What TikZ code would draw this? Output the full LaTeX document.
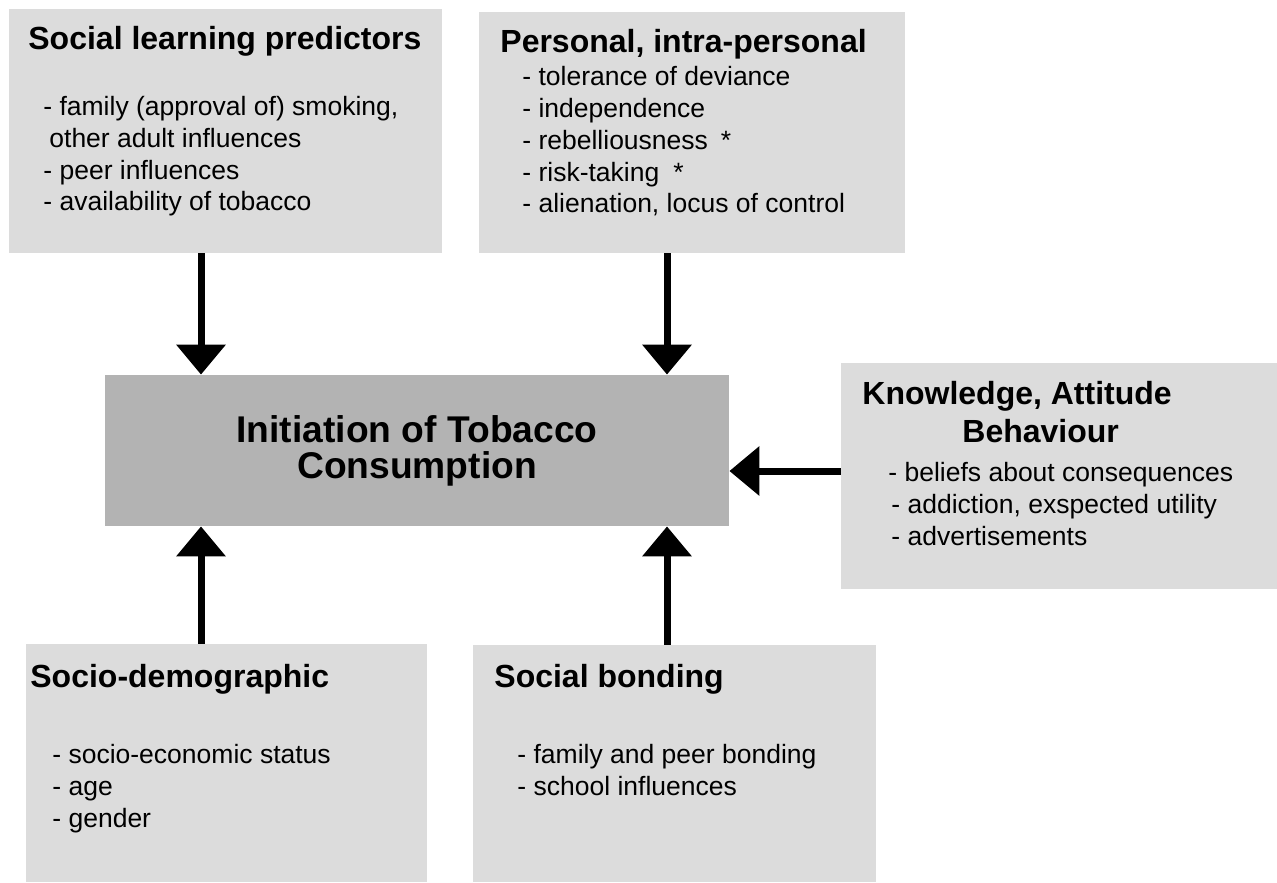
\documentclass[tikz,border=0pt]{standalone}
\usepackage{fontspec}
\setmainfont{Liberation Sans}
\usepackage{tikz}
\usetikzlibrary{arrows.meta,positioning}
\definecolor{boxgray}{RGB}{220,220,220}
\definecolor{hubgray}{RGB}{179,179,179}

\begin{document}
\begin{tikzpicture}[
      x=0.5pt,y=-0.5pt,
      box/.style={fill=boxgray,draw=none,inner sep=0pt},
      hub/.style={fill=hubgray,draw=none,inner sep=0pt,align=center,font=\fontsize{18.6}{18}\selectfont\bfseries},
      title/.style={inner sep=0pt,anchor=base west,align=left,font=\fontsize{16}{19}\selectfont\bfseries},
      items/.style={inner sep=0pt,anchor=base west,align=left,font=\fontsize{13.25}{15.9}\selectfont},
      arrow/.style={-{Triangle[width=24pt,length=15pt]},line width=3.5pt,draw=black}
    ]
      \useasboundingbox (0,0) rectangle (1277,882);

      % boxes
      \node[box,minimum width=216.5pt,minimum height=122pt] (social) at (225.5,131) {};
      \node[box,minimum width=213pt,minimum height=120.5pt] (personal) at (692,132.5) {};
      \node[hub,minimum width=312pt,minimum height=75.5pt] (central) at (417,450.5) {Initiation of Tobacco\\Consumption};
      \node[box,minimum width=218pt,minimum height=113pt] (knowledge) at (1059,476) {};
      \node[box,minimum width=200.5pt,minimum height=119pt] (sociodemo) at (226.5,763) {};
      \node[box,minimum width=201.5pt,minimum height=118.5pt] (bonding) at (674.5,763.5) {};

      % texts (anchored on the baseline of their last line)
      \node[title] (socialtitle) at (28,50) {Social learning predictors};
      \node[items] (socialitems) at (43,211) {- family (approval of) smoking,\\\hspace*{3pt}other adult influences\\- peer influences\\- availability of tobacco};
      \node[title] (personaltitle) at (500,53) {Personal, intra-personal};
      \node[items] (personalitems) at (522,213) {- tolerance of deviance\\- independence\\- rebelliousness\hspace{6.5pt}*\\- risk-taking\hspace{7pt}*\\- alienation, locus of control};
      \node[title] (knowledgetitle) at (862,442) {Knowledge, Attitude\\\hspace*{50pt}Behaviour};
      \node[items] (knowledgeitems) at (891,545) {\hspace*{-1.5pt}- beliefs about consequences\\- addiction, exspected utility\\- advertisements};
      \node[title] (sociodemotitle) at (30,687) {Socio-demographic};
      \node[items] (sociodemoitems) at (52,827) {- socio-economic status\\- age\\- gender};
      \node[title] (bondingtitle) at (494,687) {Social bonding};
      \node[items] (bondingitems) at (517,795) {- family and peer bonding\\- school influences};

      % arrows
      \coordinate (colL) at (201,0);
      \coordinate (colR) at (667,0);
      \coordinate (rowK) at (0,471);
      \draw[arrow] (social.south -| colL) -- (central.north -| colL);
      \draw[arrow] (personal.south -| colR) -- (central.north -| colR);
      \draw[arrow] (knowledge.west |- rowK) -- (central.east |- rowK);
      \draw[arrow] (sociodemo.north -| colL) -- (central.south -| colL);
      \draw[arrow] (bonding.north -| colR) -- (central.south -| colR);
    \end{tikzpicture}
\end{document}
